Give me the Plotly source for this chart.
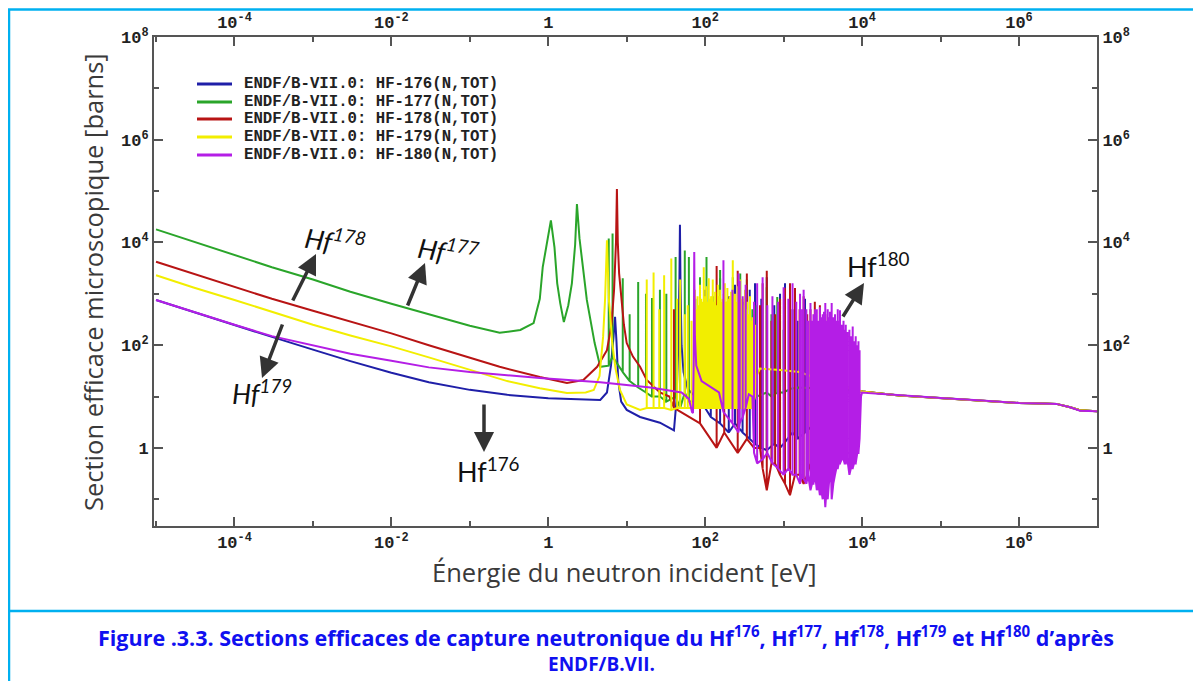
import plotly.graph_objects as go

# the page keeps an 8 px body margin, so the figure sits at (8, 8)
OFF = 8
W, H = 1201 - 2 * OFF, 689 - 2 * OFF
# plot frame in page pixels
L, R, T, B = 154, 1097, 37, 526


def px(x):
    return (x - L) / (R - L)


def py(y):
    return (B - y) / (B - T)


names = [
    "ENDF/B-VII.0: HF-176(N,TOT)",
    "ENDF/B-VII.0: HF-177(N,TOT)",
    "ENDF/B-VII.0: HF-178(N,TOT)",
    "ENDF/B-VII.0: HF-179(N,TOT)",
    "ENDF/B-VII.0: HF-180(N,TOT)",
]
colors = ["#1f1fa8", "#2aa52a", "#b81414", "#f2ee00", "#b41ee6"]

# smooth parts: (energy eV, cross section b)
# narrow resonances: (energy eV, peak b, floor b)
smooth_176 = [
    (1e-5, 760), (3e-5, 440), (1e-4, 250), (3e-4, 145), (1e-3, 82), (3e-3, 49), (0.01, 29),
    (0.03, 19), (0.1, 13.5), (0.3, 10.8), (1, 9.3), (2.5, 8.8), (4.6, 8.6), (5.6, 12), (6.3, 40),
    (6.8, 150), (7.1, 355), (7.4, 120), (7.8, 20), (8.5, 8), (10, 5.5), (14.8, 4.0), (26.5, 3.1),
    (36, 2.4), (40, 2.2), (43, 8), (45.5, 100), (47, 2000), (47.7, 22000), (48.5, 1500), (50, 100),
    (53, 30), (60, 14), (70, 11), (80, 10), (4000, 15), (1e4, 12.5), (3e4, 10.5), (1e5, 9.4),
    (3e5, 8.5), (1e6, 7.5), (2e6, 7.3), (3e6, 7.2), (4.5e6, 6.2), (6e6, 5.4), (1e7, 5.2),
]
spikes_176 = [
    (100, 1200, 6), (118, 400, 4), (155, 2000, 3), (200, 900, 2), (240, 1500, 3), (300, 700, 2),
    (370, 1200, 1.5), (432, 1600, 1.2), (520, 800, 1.0), (610, 2100, 0.9), (760, 600, 1.2),
    (900, 1000, 1.0), (1042, 1600, 1.3), (1300, 500, 2), (1500, 300, 1.5), (1874, 800, 2),
    (2500, 400, 3), (3372, 200, 8),
]
smooth_177 = [
    (1e-5, 18000), (3e-5, 10400), (1e-4, 5700), (3e-4, 3300), (1e-3, 1900), (3e-3, 1100),
    (0.01, 640), (0.03, 400), (0.1, 240), (0.24, 174), (0.44, 198), (0.65, 270), (0.78, 800),
    (0.85, 3300), (0.95, 9000), (1.08, 27000), (1.2, 8000), (1.3, 1600), (1.42, 660), (1.58, 282),
    (1.8, 600), (2.0, 1600), (2.2, 9000), (2.32, 56000), (2.5, 12000), (2.77, 3300), (3.1, 760),
    (3.9, 110), (4.6, 38), (1500, 15), (5000, 14), (1e4, 12.5), (3e4, 10.5), (1e5, 9.4),
    (3e5, 8.5), (1e6, 7.5), (2e6, 7.3), (3e6, 7.2), (4.5e6, 6.2), (6e6, 5.4), (1e7, 5.2),
]
spikes_177 = [
    (5.9, 12000, 40), (6.6, 15000, 60), (8.9, 2000, 30), (10.9, 400, 20), (14, 1700, 15),
    (17.6, 1000, 12), (21, 830, 10), (26.5, 1200, 10), (32, 1000, 8), (42, 5200, 10),
    (48, 600, 6), (55, 7000, 12), (62, 5200, 8), (75, 800, 8), (86, 2100, 10), (104, 5200, 8),
    (125, 900, 8), (155, 2900, 9), (190, 700, 8), (225, 2100, 10), (280, 2500, 10),
    (340, 1900, 10), (400, 500, 8), (450, 600, 10), (610, 1350, 12), (700, 400, 10),
    (830, 870, 12), (1000, 200, 12), (1200, 300, 14),
]
smooth_178 = [
    (1e-5, 4200), (3e-5, 2450), (1e-4, 1350), (3e-4, 800), (1e-3, 470), (3e-3, 290), (0.01, 170),
    (0.03, 100), (0.1, 58), (0.24, 38), (0.78, 24), (1.73, 18.4), (2.8, 21), (4.2, 38), (5.6, 80),
    (6.4, 250), (6.9, 1200), (7.3, 10000), (7.5, 110000), (7.7, 10000), (8.0, 2500), (8.5, 900),
    (9.2, 250), (10, 110), (12, 60), (14.8, 38), (18, 21), (26.5, 12), (35, 10), (4500, 18),
    (1e4, 12.5), (3e4, 10.5), (1e5, 9.4), (3e5, 8.5), (1e6, 7.5), (2e6, 7.3), (3e6, 7.2),
    (4.5e6, 6.2), (6e6, 5.4), (1e7, 5.2),
]
spikes_178 = [
    (40, 500, 6), (86, 1300, 3), (140, 3500, 1.0), (175, 600, 2), (260, 2800, 0.8),
    (340, 2500, 1.5), (420, 400, 1), (500, 600, 1.0), (540, 1600, 0.4), (610, 2800, 0.15),
    (700, 300, 0.5), (780, 400, 0.5), (900, 800, 0.3), (1042, 1300, 0.2), (1206, 1600, 0.12),
    (1397, 1300, 0.3), (1600, 500, 0.3), (1800, 900, 0.2), (2000, 400, 0.3), (2200, 500, 0.5),
    (2500, 700, 0.3), (2900, 600, 0.15), (3400, 400, 0.5), (3900, 300, 2),
]
smooth_179 = [
    (1e-5, 2300), (3e-5, 1330), (1e-4, 760), (3e-4, 440), (1e-3, 250), (3e-3, 155), (0.01, 95),
    (0.03, 58), (0.1, 33), (0.3, 20), (0.78, 14.5), (1.73, 11.7), (3.0, 12), (3.8, 13.4),
    (4.5, 25), (5.0, 145), (5.3, 800), (5.5, 4000), (5.6, 11000), (5.75, 3000), (5.95, 700),
    (6.2, 350), (6.5, 120), (7.2, 35), (8.2, 13.4), (10, 7), (14.8, 5.5), (450, 25), (500, 35),
    (900, 33), (1600, 30), (4000, 18), (1e4, 12.5), (3e4, 10.5), (1e5, 9.4), (3e5, 8.5),
    (1e6, 7.5), (2e6, 7.3), (3e6, 7.2), (4.5e6, 6.2), (6e6, 5.4), (1e7, 5.2),
]
spikes_179 = [
    (18, 1900, 6), (22, 2600, 6), (26, 500, 6), (30, 2300, 6), (37, 4900, 5.5), (44, 800, 6),
    (48, 1900, 6), (55, 400, 6), (60, 600, 6), (67, 300, 6), (74, 1200, 6), (77, 500, 6),
    (80, 900, 6), (83, 600, 6), (86, 1500, 6), (89, 800, 6), (93, 700, 6), (96, 3300, 6),
    (99, 900, 6), (103, 1400, 6), (107, 700, 6), (111, 2000, 6), (115, 800, 6), (119, 900, 6),
    (125, 1900, 6), (129, 700, 6), (134, 1100, 6), (139, 600, 6), (145, 1500, 6), (150, 900, 6),
    (155, 1200, 6), (160, 700, 6), (166, 800, 6), (172, 1000, 6), (178, 1600, 6), (184, 700, 6),
    (192, 1300, 6), (199, 800, 6), (207, 900, 6), (214, 1100, 6), (225, 4500, 6), (232, 900, 6),
    (240, 1000, 6), (248, 700, 6), (260, 1400, 6), (270, 900, 6), (280, 1900, 6), (290, 800, 6),
    (300, 800, 6), (311, 600, 6), (322, 1200, 6), (333, 500, 6), (345, 700, 6), (358, 400, 6),
    (373, 900, 6), (385, 300, 6), (400, 350, 6), (415, 200, 8), (432, 250, 10),
]
smooth_180 = [
    (1e-5, 760), (3e-5, 440), (1e-4, 250), (3e-4, 150), (1e-3, 100), (3e-3, 68), (0.01, 50),
    (0.03, 37), (0.1, 30), (0.3, 26), (0.78, 23), (4.6, 19), (20, 15), (50, 12), (62, 9), (68, 5),
    (70, 4.8), (71.5, 60), (72.3, 1500), (72.6, 6500), (73, 1500), (74, 150), (77, 40), (90, 20),
    (150, 12), (360, 11), (400, 10), (9700, 10), (1e4, 12), (1.2e4, 11.7), (3e4, 10.5),
    (1e5, 9.4), (3e5, 8.5), (1e6, 7.5), (2e6, 7.3), (3e6, 7.2), (4.5e6, 6.2), (6e6, 5.3), (1e7, 5.2),
]
spikes_180 = [
    (171, 4500, 5), (223, 1200, 3), (266, 2500, 2), (276, 1800, 3), (301, 900, 4), (328, 1500, 6),
    (420, 700, 0.8), (460, 1600, 0.5), (540, 2100, 0.6), (620, 600, 0.8), (720, 900, 0.5),
    (850, 700, 0.4), (1000, 1350, 0.3), (1150, 800, 0.4), (1300, 1600, 0.3), (1450, 700, 0.3),
    (1620, 1000, 0.2), (1720, 500, 0.3), (1800, 1200, 0.25), (1950, 500, 0.2), (2050, 300, 0.3),
    (2200, 660, 0.15), (2300, 300, 0.2), (2400, 400, 0.2), (2520, 500, 0.3), (2650, 500, 0.15),
    (2780, 300, 0.2), (2900, 550, 0.12), (3020, 350, 0.15), (3150, 400, 0.1), (3270, 450, 0.2),
    (3400, 660, 0.07), (3520, 300, 0.15), (3650, 500, 0.1), (3780, 350, 0.2), (3900, 450, 0.3),
    (4000, 300, 0.4), (4100, 660, 0.1), (4300, 350, 0.2), (4523, 400, 0.3), (4700, 300, 0.4),
    (4900, 500, 0.4), (5050, 300, 0.5), (5238, 480, 0.5), (5500, 250, 0.6), (5800, 300, 0.6),
    (6000, 200, 0.5), (6200, 250, 0.5), (6500, 180, 0.6), (6900, 200, 0.3), (7200, 150, 0.4),
    (7600, 230, 0.4), (7900, 120, 0.5), (8300, 150, 0.5), (8700, 100, 0.8), (9000, 120, 0.8),
    (9300, 80, 1.5),
]
series = [
    (smooth_176, spikes_176),
    (smooth_177, spikes_177),
    (smooth_178, spikes_178),
    (smooth_179, spikes_179),
    (smooth_180, spikes_180),
]

x_major = [1e-4, 1e-2, 1, 1e2, 1e4, 1e6]
x_major_text = ["10<sup>-4</sup>", "10<sup>-2</sup>", "1", "10<sup>2</sup>", "10<sup>4</sup>", "10<sup>6</sup>"]
x_minor = [1e-5, 1e-3, 1e-1, 1e1, 1e3, 1e5]
y_major = [1, 1e2, 1e4, 1e6, 1e8]
y_major_text = ["1", "10<sup>2</sup>", "10<sup>4</sup>", "10<sup>6</sup>", "10<sup>8</sup>"]
y_minor = [1e-1, 1e1, 1e3, 1e5, 1e7]


def build_curve(smooth, spikes):
    pts = list(smooth)
    for e, top, low in spikes:
        # a narrow resonance shows up as a vertical stroke
        pts += [(e, low), (e, top), (e, low)]
    pts.sort(key=lambda p: p[0])
    return [p[0] for p in pts], [p[1] for p in pts]


fig = go.Figure()

for (smooth, spikes), name, color in zip(series, names, colors):
    e, xs = build_curve(smooth, spikes)
    fig.add_trace(go.Scatter(
        x=e, y=xs, mode="lines", name=name,
        line=dict(color=color, width=2), showlegend=False,
    ))

# empty trace so the top / right axes get drawn
fig.add_trace(go.Scatter(x=[], y=[], xaxis="x2", yaxis="y2", showlegend=False, hoverinfo="skip"))

tick_font = dict(family="Liberation Mono", size=17, color="#222", weight="bold")
minor_ticks = dict(ticks="inside", ticklen=5, tickcolor="#555", tickwidth=1.5)
axis_common = dict(
    type="log", showgrid=False, zeroline=False, showline=True, linecolor="#555", linewidth=2,
    ticks="inside", ticklen=9, tickwidth=1.5, tickcolor="#555", tickfont=tick_font,
    tickmode="array",
)
x_range = [-5.026, 6.995]
y_range = [-1.52, 8.0]

fig.update_layout(
    width=W, height=H,
    margin=dict(l=L - OFF, r=W + OFF - R, t=T - OFF, b=H + OFF - B, autoexpand=False),
    plot_bgcolor="white", paper_bgcolor="white",
    showlegend=False,
    xaxis=dict(range=x_range, tickvals=x_major, ticktext=x_major_text,
               minor=dict(tickvals=x_minor, **minor_ticks), **axis_common),
    xaxis2=dict(range=x_range, tickvals=x_major, ticktext=x_major_text, overlaying="x",
                side="top", anchor="y", minor=dict(tickvals=x_minor, **minor_ticks), **axis_common),
    yaxis=dict(range=y_range, tickvals=y_major, ticktext=y_major_text,
               minor=dict(tickvals=y_minor, **minor_ticks), **axis_common),
    yaxis2=dict(range=y_range, tickvals=y_major, ticktext=y_major_text, overlaying="y",
                side="right", anchor="x", minor=dict(tickvals=y_minor, **minor_ticks), **axis_common),
)

shapes = []
annotations = []

# legend drawn by hand in the top left corner of the plot
legend_rows = [84, 102, 119, 137, 155]
for name, color, yy in zip(names, colors, legend_rows):
    shapes.append(dict(type="line", xref="paper", yref="paper", x0=px(197), x1=px(232),
                       y0=py(yy), y1=py(yy), line=dict(color=color, width=3)))
    annotations.append(dict(xref="paper", yref="paper", x=px(242), y=py(yy), text=name,
                            showarrow=False, xanchor="left", yanchor="middle",
                            font=dict(family="Liberation Mono", size=15.7, color="#222", weight="bold")))

# blue frame of the document figure
frame = dict(color="#00b0f0", width=2.5)
shapes.append(dict(type="line", xref="paper", yref="paper", x0=px(9), x1=px(9), y0=py(9.5), y1=py(700), line=frame))
shapes.append(dict(type="line", xref="paper", yref="paper", x0=px(8), x1=px(1210), y0=py(9.5), y1=py(9.5), line=frame))
shapes.append(dict(type="line", xref="paper", yref="paper", x0=px(8), x1=px(1210), y0=py(611), y1=py(611), line=frame))

title_font = dict(family="Open Sans", size=25.5, color="#3a3a3a")
annotations.append(dict(xref="paper", yref="paper", x=px(93), y=py(282), text="Section efficace microscopique [barns]",
                        textangle=-90, showarrow=False, xanchor="center", yanchor="middle", font=title_font))
annotations.append(dict(xref="paper", yref="paper", x=px(624), y=py(572), text="Énergie du neutron incident [eV]",
                        showarrow=False, xanchor="center", yanchor="middle", font=title_font))

# isotope labels and arrows
label_font = dict(family="Lato", size=27, color="#111")
iso_labels = [
    ("<i>Hf<sup>178</sup></i>", 335, 240, 9),
    ("<i>Hf<sup>177</sup></i>", 448, 250, 9),
    ("<i>Hf<sup>179</sup></i>", 262, 392, 0),
    ("Hf<sup>176</sup>", 488, 470, 0),
    ("Hf<sup>180</sup>", 878, 265, 0),
]
for text, xx, yy, ang in iso_labels:
    annotations.append(dict(xref="paper", yref="paper", x=px(xx), y=py(yy), text=text, textangle=ang,
                            showarrow=False, xanchor="center", yanchor="middle", font=label_font))

arrows = [
    ((292, 302), (316, 254)),
    ((283, 323), (262, 378)),
    ((407, 307), (425, 263)),
    ((484, 403), (484, 452)),
    ((842, 318), (864, 283)),
]
for (tx, ty), (hx, hy) in arrows:
    annotations.append(dict(xref="paper", yref="paper", x=px(hx), y=py(hy), ax=tx - hx, ay=ty - hy,
                            text="", showarrow=True, arrowhead=2, arrowsize=1.15, arrowwidth=3.5,
                            arrowcolor="#333", standoff=0, startstandoff=0))

cap_color = "#1010f0"
annotations.append(dict(xref="paper", yref="paper", x=px(606), y=py(636),
                        text="Figure .3.3. Sections efficaces de capture neutronique du Hf<sup>176</sup>, "
                             "Hf<sup>177</sup>, Hf<sup>178</sup>, Hf<sup>179</sup> et Hf<sup>180</sup> d’après",
                        showarrow=False, xanchor="center", yanchor="middle",
                        font=dict(family="Open Sans", size=21.5, color=cap_color, weight="bold")))
annotations.append(dict(xref="paper", yref="paper", x=px(601), y=py(664), text="ENDF/B.VII.",
                        showarrow=False, xanchor="center", yanchor="middle",
                        font=dict(family="Open Sans", size=19, color=cap_color, weight="bold")))

fig.update_layout(shapes=shapes, annotations=annotations)

fig.write_html("out.html")
